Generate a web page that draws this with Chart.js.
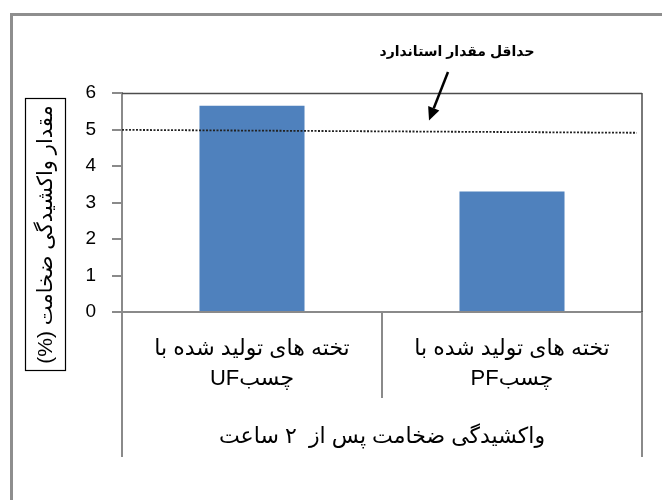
<!DOCTYPE html>
<html>
<head>
<meta charset="utf-8">
<script src="https://cdn.jsdelivr.net/npm/chart.js@4/dist/chart.umd.min.js"></script>
<style>
  html, body { margin: 0; padding: 0; background: #fff; }
  canvas { display: block; }
</style>
</head>
<body>
<canvas id="chart" width="662" height="500" dir="rtl"></canvas>
<script>
// Board types (two-line labels) and thickness swelling after 2 hours (%)
const categories = [
  ['تخته های تولید شده با', 'چسبUF'],
  ['تخته های تولید شده با', 'چسبPF']
];
const swellValues = [5.65, 3.3];
// Minimum standard value, drawn as a dotted line (left end, right end)
const standardLine = [4.99, 4.91];
const standardSpan = [0, 0.99];
const yTicks = [0, 1, 2, 3, 4, 5, 6];

const groupLabel = 'واکشیدگی ضخامت پس از  ۲ ساعت';
const yTitle = 'مقدار واکشیدگی ضخامت (%)';
const standardLabel = 'حداقل مقدار استاندارد';

const FONT = "'Liberation Sans', 'DejaVu Sans', Arial, sans-serif";
const AXIS_GRAY = '#8a8a8a';

// Frame, plot border, category separators, boxed y title and the callout arrow
const decor = {
  id: 'decor',
  afterDraw(chart) {
    const { ctx, chartArea: a, scales: { x, y } } = chart;
    ctx.save();

    // outer frame (top and left edges)
    ctx.fillStyle = '#8e8e8e';
    ctx.fillRect(10, 13, 652, 3);
    ctx.fillRect(10, 13, 3, 487);

    // plot area top and right border
    ctx.strokeStyle = '#4d4d4d';
    ctx.lineWidth = 1.5;
    ctx.beginPath();
    ctx.moveTo(a.left, a.top + 0.5);
    ctx.lineTo(a.right, a.top + 0.5);
    ctx.moveTo(a.right, a.top);
    ctx.lineTo(a.right, a.bottom);
    ctx.stroke();

    // category separators below the axis
    const mid = (x.getPixelForTick(0) + x.getPixelForTick(1)) / 2;
    ctx.strokeStyle = AXIS_GRAY;
    ctx.lineWidth = 2;
    ctx.beginPath();
    ctx.moveTo(a.left, a.bottom);
    ctx.lineTo(a.left, a.bottom + 145);
    ctx.moveTo(a.right, a.bottom);
    ctx.lineTo(a.right, a.bottom + 145);
    ctx.moveTo(mid, a.bottom);
    ctx.lineTo(mid, a.bottom + 86);
    ctx.stroke();

    // boxed y axis title
    ctx.strokeStyle = '#000';
    ctx.lineWidth = 1.2;
    ctx.strokeRect(25.5, 98.5, 40, 272);
    ctx.save();
    ctx.translate(46, 234.5);
    ctx.rotate(-Math.PI / 2);
    ctx.direction = 'rtl';
    ctx.fillStyle = '#000';
    ctx.font = '21px ' + FONT;
    ctx.textAlign = 'center';
    ctx.textBaseline = 'middle';
    ctx.fillText(yTitle, 0, 0);
    ctx.restore();

    // callout text and arrow pointing at the standard line
    ctx.direction = 'rtl';
    ctx.fillStyle = '#000';
    ctx.font = 'bold 14px ' + FONT;
    ctx.textAlign = 'center';
    ctx.textBaseline = 'middle';
    ctx.fillText(standardLabel, 457, 52);

    const sx = 448, sy = 72;
    const tx = 429, ty = y.getPixelForValue(5.25);
    const ang = Math.atan2(ty - sy, tx - sx);
    const head = 13, half = 6;
    const bx = tx - head * Math.cos(ang), by = ty - head * Math.sin(ang);
    ctx.strokeStyle = '#000';
    ctx.lineWidth = 2.5;
    ctx.beginPath();
    ctx.moveTo(sx, sy);
    ctx.lineTo(bx, by);
    ctx.stroke();
    ctx.beginPath();
    ctx.moveTo(tx, ty);
    ctx.lineTo(bx + half * Math.sin(ang), by - half * Math.cos(ang));
    ctx.lineTo(bx - half * Math.sin(ang), by + half * Math.cos(ang));
    ctx.closePath();
    ctx.fill();

    ctx.restore();
  }
};

new Chart(document.getElementById('chart'), {
  type: 'bar',
  data: {
    labels: categories,
    datasets: [
      {
        type: 'line',
        data: standardSpan.map((p, i) => ({ x: p, y: standardLine[i] })),
        xAxisID: 'x2',
        borderColor: '#222',
        borderWidth: 1.8,
        borderDash: [2, 1.5],
        pointRadius: 0,
        fill: false,
        order: 1
      },
      {
        data: swellValues,
        backgroundColor: '#4F81BD',
        borderWidth: 0,
        grouped: false,
        barPercentage: 0.404,
        categoryPercentage: 1,
        order: 2
      }
    ]
  },
  options: {
    responsive: false,
    animation: false,
    devicePixelRatio: 1,
    layout: { padding: { left: 0, top: 93, right: 20, bottom: 0 } },
    plugins: { legend: { display: false }, tooltip: { enabled: false } },
    scales: {
      x: {
        offset: true,
        grid: { display: false, drawTicks: false },
        border: { display: true, color: AXIS_GRAY, width: 2 },
        ticks: {
          padding: 22,
          color: '#000',
          maxRotation: 0,
          autoSkip: false,
          font: { family: FONT, size: 22, lineHeight: 1.364 }
        },
        title: {
          display: true,
          text: groupLabel,
          color: '#000',
          font: { family: FONT, size: 22 },
          padding: { top: 0, bottom: 50 }
        },
        afterFit(s) { s.height = 188; }
      },
      x2: { type: 'linear', display: false, offset: false, min: 0, max: 1 },
      y: {
        min: 0,
        max: 6,
        afterBuildTicks(s) { s.ticks = yTicks.map(v => ({ value: v })); },
        ticks: { padding: 16, color: '#000', font: { family: FONT, size: 19 } },
        grid: { drawOnChartArea: false, tickLength: 10, color: AXIS_GRAY, lineWidth: 2 },
        border: { display: true, color: AXIS_GRAY, width: 2 },
        afterFit(s) { s.width = 122; }
      }
    }
  },
  plugins: [decor]
});
</script>
</body>
</html>
